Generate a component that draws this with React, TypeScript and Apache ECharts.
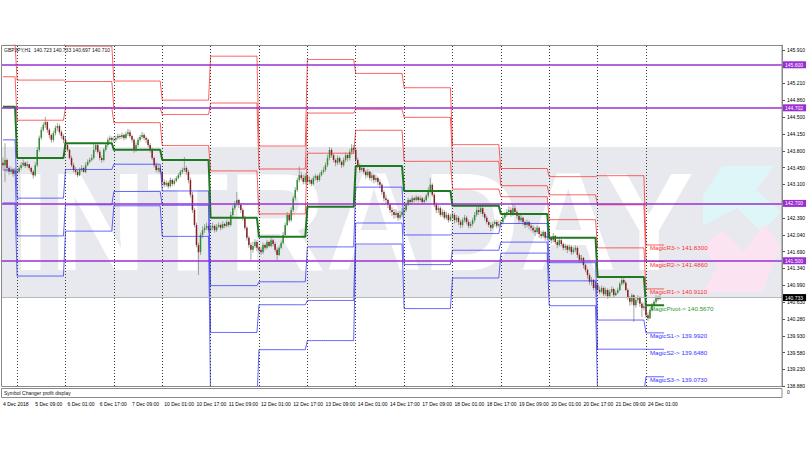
import React, { useEffect, useRef } from "react";
import * as echarts from "echarts";

// ---------- data ----------
const DAYS = ["4 Dec", "5 Dec", "6 Dec", "7 Dec", "10 Dec", "11 Dec", "12 Dec", "13 Dec", "14 Dec", "17 Dec", "18 Dec", "19 Dec", "20 Dec", "21 Dec", "24 Dec"];
const FIRST_HOURS = [17, 0, 0, 0, 0, 0, 0, 0, 0, 0, 0, 0, 0, 0, 0];
const FIRST_OPEN = 143.55;

const CLOSES = [
  [143.50, 143.61, 143.44, 143.36, 143.40, 143.32, 143.38],
  [143.36, 143.44, 143.50, 143.55, 143.48, 143.52, 143.44, 143.36, 143.29, 143.50, 143.82, 144.07, 144.24, 144.34, 144.40, 144.24, 144.13, 144.03, 144.17, 144.28, 144.32, 144.19, 144.11, 144.03],
  [143.92, 143.82, 143.65, 143.50, 143.40, 143.36, 143.29, 143.40, 143.44, 143.36, 143.50, 143.57, 143.61, 143.65, 143.82, 143.92, 143.78, 143.65, 143.61, 143.82, 143.92, 144.03, 144.07, 144.03],
  [144.03, 144.07, 144.11, 144.09, 144.13, 144.07, 144.15, 144.19, 144.11, 144.03, 143.82, 143.92, 144.03, 144.09, 144.13, 144.07, 144.03, 143.92, 143.82, 143.65, 143.50, 143.40, 143.44, 143.36],
  [143.15, 143.09, 143.13, 143.06, 143.19, 143.11, 143.17, 143.23, 143.29, 143.36, 143.40, 143.44, 143.36, 143.19, 142.88, 142.56, 142.25, 141.83, 141.68, 142.04, 142.14, 142.19, 142.23, 142.14],
  [142.19, 142.23, 142.14, 142.21, 142.25, 142.19, 142.27, 142.23, 142.31, 142.25, 142.46, 142.60, 142.69, 142.77, 142.67, 142.56, 142.40, 142.19, 141.98, 141.83, 141.73, 141.81, 141.89, 141.77],
  [141.73, 141.68, 141.83, 141.77, 141.89, 141.81, 141.93, 141.85, 141.73, 141.62, 141.77, 141.87, 142.04, 142.25, 142.46, 142.35, 142.56, 142.81, 142.98, 143.19, 143.29, 143.23, 143.15, 143.27],
  [143.15, 143.19, 143.11, 143.23, 143.27, 143.19, 143.29, 143.36, 143.40, 143.50, 143.65, 143.82, 143.71, 143.61, 143.55, 143.65, 143.57, 143.50, 143.61, 143.71, 143.65, 143.78, 143.86, 143.82],
  [143.61, 143.50, 143.40, 143.44, 143.36, 143.29, 143.36, 143.23, 143.29, 143.19, 143.23, 143.15, 143.09, 142.94, 142.81, 142.77, 142.67, 142.56, 142.52, 142.46, 142.50, 142.40, 142.46, 142.52],
  [142.56, 142.67, 142.77, 142.73, 142.81, 142.77, 142.83, 142.77, 142.81, 142.73, 142.77, 142.86, 142.98, 143.09, 142.88, 142.67, 142.56, 142.60, 142.46, 142.52, 142.40, 142.46, 142.35, 142.42],
  [142.46, 142.35, 142.40, 142.31, 142.25, 142.35, 142.40, 142.31, 142.23, 142.27, 142.35, 142.46, 142.56, 142.52, 142.60, 142.48, 142.40, 142.31, 142.25, 142.19, 142.27, 142.31, 142.23, 142.27],
  [142.31, 142.40, 142.46, 142.52, 142.56, 142.48, 142.60, 142.52, 142.44, 142.35, 142.40, 142.31, 142.25, 142.31, 142.23, 142.19, 142.14, 142.10, 142.19, 142.06, 142.02, 142.10, 141.98, 142.02],
  [141.98, 141.93, 142.02, 141.89, 141.83, 141.93, 141.85, 141.77, 141.81, 141.73, 141.79, 141.68, 141.73, 141.77, 141.62, 141.52, 141.56, 141.41, 141.31, 141.20, 141.06, 141.10, 140.93, 141.00],
  [140.89, 140.85, 140.93, 140.80, 140.89, 140.76, 140.85, 140.91, 140.78, 140.83, 140.89, 141.02, 141.10, 141.04, 140.89, 140.72, 140.64, 140.78, 140.57, 140.68, 140.72, 140.60, 140.51, 140.55],
  [140.36, 140.30, 140.47, 140.57, 140.64, 140.72, 140.70, 140.73],
];

const HIGHS = [
  [143.66, 143.96, 143.64, 143.48, 143.47, 143.44, 143.45],
  [143.42, 143.49, 143.56, 143.62, 143.57, 143.58, 143.53, 143.47, 143.40, 143.56, 143.88, 144.12, 144.30, 144.40, 144.51, 144.42, 144.27, 144.16, 144.22, 144.33, 144.38, 144.36, 144.23, 144.15],
  [144.10, 143.96, 143.84, 143.70, 143.55, 143.46, 143.40, 143.45, 143.50, 143.47, 143.56, 143.62, 143.66, 143.72, 143.96, 143.98, 143.95, 143.82, 143.70, 143.86, 143.97, 144.08, 144.12, 144.10],
  [144.10, 144.12, 144.16, 144.15, 144.18, 144.16, 144.20, 144.26, 144.24, 144.14, 144.06, 143.98, 144.08, 144.14, 144.20, 144.17, 144.10, 144.06, 143.96, 143.86, 143.68, 143.56, 143.52, 143.49],
  [143.38, 143.20, 143.18, 143.16, 143.24, 143.22, 143.22, 143.27, 143.33, 143.40, 143.45, 143.67, 143.48, 143.40, 143.24, 142.94, 142.60, 142.30, 141.88, 142.09, 142.22, 142.27, 142.30, 142.28],
  [142.26, 142.30, 142.26, 142.27, 142.31, 142.28, 142.33, 142.30, 142.36, 142.34, 142.52, 142.66, 142.75, 142.94, 142.80, 142.70, 142.60, 142.44, 142.22, 142.02, 141.88, 141.90, 141.95, 141.93],
  [141.80, 141.78, 141.88, 141.86, 141.94, 141.92, 141.98, 141.96, 141.90, 141.78, 141.82, 141.92, 142.10, 142.30, 142.52, 142.50, 142.62, 142.86, 143.04, 143.24, 143.47, 143.36, 143.30, 143.33],
  [143.22, 143.26, 143.22, 143.28, 143.32, 143.30, 143.34, 143.40, 143.46, 143.56, 143.72, 143.88, 143.86, 143.74, 143.64, 143.70, 143.68, 143.60, 143.66, 143.76, 143.74, 143.84, 143.94, 143.92],
  [143.88, 143.66, 143.54, 143.50, 143.48, 143.40, 143.42, 143.38, 143.34, 143.32, 143.30, 143.26, 143.20, 143.12, 142.98, 142.88, 142.80, 142.70, 142.62, 142.58, 142.58, 142.54, 142.54, 142.60],
  [142.62, 142.72, 142.82, 142.80, 142.86, 142.84, 142.88, 142.86, 142.86, 142.84, 142.82, 142.90, 143.04, 143.23, 143.12, 142.92, 142.72, 142.66, 142.64, 142.58, 142.56, 142.52, 142.50, 142.48],
  [142.52, 142.50, 142.46, 142.44, 142.36, 142.40, 142.46, 142.44, 142.36, 142.32, 142.40, 142.52, 142.62, 142.64, 142.68, 142.64, 142.52, 142.44, 142.34, 142.30, 142.32, 142.36, 142.36, 142.34],
  [142.36, 142.46, 142.52, 142.58, 142.64, 142.62, 142.68, 142.66, 142.56, 142.46, 142.46, 142.42, 142.34, 142.36, 142.34, 142.28, 142.24, 142.20, 142.24, 142.22, 142.12, 142.14, 142.12, 142.08],
  [142.08, 142.02, 142.08, 142.04, 141.94, 141.98, 141.96, 141.88, 141.86, 141.84, 141.84, 141.82, 141.78, 141.82, 141.80, 141.66, 141.62, 141.58, 141.44, 141.34, 141.24, 141.16, 141.12, 141.06],
  [141.04, 140.96, 140.98, 140.96, 140.94, 140.92, 140.90, 140.96, 140.94, 140.88, 140.94, 141.06, 141.16, 141.14, 141.08, 140.92, 140.76, 140.82, 140.80, 140.74, 140.78, 140.76, 140.64, 140.62],
  [140.58, 140.42, 140.50, 140.62, 140.68, 140.78, 140.77, 140.78],
];

const LOWS = [
  [143.42, 143.15, 143.35, 143.30, 143.31, 143.26, 143.28],
  [143.30, 143.33, 143.40, 143.47, 143.44, 143.45, 143.40, 143.31, 143.22, 143.26, 143.46, 143.78, 144.03, 144.20, 144.28, 144.18, 144.06, 143.97, 143.98, 144.12, 144.22, 144.14, 144.05, 143.96],
  [143.86, 143.78, 143.62, 143.46, 143.35, 143.30, 143.25, 143.27, 143.36, 143.34, 143.33, 143.48, 143.54, 143.58, 143.62, 143.78, 143.74, 143.60, 143.55, 143.58, 143.79, 143.88, 143.99, 143.98],
  [143.97, 143.99, 144.03, 144.04, 144.05, 144.02, 144.04, 144.11, 144.07, 143.98, 143.76, 143.78, 143.88, 143.99, 144.05, 144.02, 143.96, 143.88, 143.76, 143.60, 143.45, 143.35, 143.34, 143.31],
  [143.10, 143.04, 143.05, 143.01, 143.03, 143.06, 143.08, 143.14, 143.20, 143.25, 143.32, 143.36, 143.30, 143.12, 142.82, 142.50, 142.20, 141.78, 141.20, 141.62, 141.98, 142.08, 142.14, 142.09],
  [142.10, 142.14, 142.09, 142.10, 142.18, 142.13, 142.16, 142.18, 142.20, 142.20, 142.22, 142.42, 142.56, 142.64, 142.60, 142.50, 142.34, 142.14, 141.92, 141.77, 141.52, 141.67, 141.76, 141.70],
  [141.66, 141.62, 141.64, 141.72, 141.74, 141.78, 141.78, 141.80, 141.68, 141.51, 141.60, 141.74, 141.84, 142.00, 142.22, 142.30, 142.32, 142.52, 142.76, 142.94, 143.14, 143.18, 143.10, 143.10],
  [143.08, 143.10, 143.06, 143.08, 143.18, 143.14, 143.16, 143.26, 143.32, 143.36, 143.46, 143.60, 143.66, 143.56, 143.48, 143.50, 143.52, 143.44, 143.46, 143.56, 143.58, 143.60, 143.72, 143.74],
  [143.54, 143.44, 143.34, 143.36, 143.30, 143.22, 143.24, 143.18, 143.16, 143.12, 143.14, 143.08, 143.02, 142.88, 142.74, 142.70, 142.60, 142.50, 142.44, 142.38, 142.40, 142.34, 142.36, 142.42],
  [142.46, 142.52, 142.64, 142.68, 142.70, 142.72, 142.74, 142.72, 142.74, 142.68, 142.70, 142.74, 142.82, 142.92, 142.84, 142.62, 142.50, 142.50, 142.42, 142.42, 142.36, 142.36, 142.30, 142.32],
  [142.38, 142.28, 142.30, 142.24, 142.18, 142.20, 142.30, 142.26, 142.18, 142.18, 142.22, 142.30, 142.42, 142.46, 142.48, 142.42, 142.34, 142.26, 142.20, 142.12, 142.16, 142.22, 142.18, 142.20],
  [142.22, 142.26, 142.36, 142.42, 142.48, 142.42, 142.44, 142.46, 142.38, 142.28, 142.30, 142.24, 142.18, 142.20, 142.16, 142.12, 142.08, 142.02, 142.06, 141.98, 141.96, 141.98, 141.92, 141.94],
  [141.92, 141.86, 141.88, 141.84, 141.76, 141.80, 141.80, 141.72, 141.72, 141.66, 141.70, 141.62, 141.64, 141.68, 141.56, 141.46, 141.46, 141.34, 141.26, 141.12, 141.00, 140.98, 140.88, 140.90],
  [140.84, 140.80, 140.82, 140.76, 140.76, 140.70, 140.72, 140.82, 140.74, 140.76, 140.80, 140.86, 140.98, 141.00, 140.86, 140.68, 140.56, 140.58, 140.22, 140.52, 140.62, 140.54, 140.32, 140.46],
  [140.30, 140.24, 140.28, 140.44, 140.54, 140.60, 140.66, 140.68],
];

// daily pivot levels (one value per day)
const PIVOT = [144.72, 143.65, 143.96, 143.82, 143.61, 142.40, 142.00, 142.63, 143.48, 142.96, 142.65, 142.48, 141.98, 141.16, 140.567];
const R1 = [145.35, 144.44, 144.70, 144.39, 143.91, 143.38, 142.48, 143.75, 144.23, 143.58, 143.00, 142.84, 142.36, 141.77, 140.911];
const R2 = [146.04, 145.28, 145.25, 144.69, 144.56, 144.80, 143.42, 144.59, 144.67, 144.50, 143.58, 143.07, 142.88, 142.67, 141.486];
const R3 = [146.67, 146.07, 145.99, 145.26, 144.86, 145.78, 143.90, 145.71, 145.42, 145.12, 143.93, 143.43, 143.26, 143.28, 141.83];
const S1 = [144.03, 142.81, 143.41, 143.52, 142.96, 140.98, 141.06, 141.79, 143.04, 142.04, 142.07, 142.28, 141.46, 140.26, 139.992];
const S2 = [143.40, 142.02, 142.67, 142.95, 142.66, 140.00, 140.58, 140.67, 142.29, 141.42, 141.72, 141.89, 141.08, 139.65, 139.648];
const S3 = [142.71, 141.18, 142.12, 142.65, 142.01, 138.58, 139.64, 139.83, 141.85, 140.50, 141.14, 141.66, 140.56, 138.75, 139.073];

const H_LINES = [145.6, 144.702, 142.7, 141.5];
const H_LINE_LABELS = ["145.600", "144.702", "142.700", "141.500"];
const BID = 140.733;
const BID_LABEL = "140.733";
// ticks (every ~0.35) and the tick labels that are not hidden by the level boxes
const Y_TICKS = [138.88, 139.23, 139.58, 139.93, 140.28, 140.63, 140.99, 141.34, 141.69, 142.04, 142.39, 142.74, 143.10, 143.45, 143.80, 144.15, 144.50, 144.86, 145.21, 145.56, 145.91];
const Y_TICK_LABELS = [138.88, 139.23, 139.58, 139.93, 140.28, 140.63, 140.99, 141.34, 141.69, 142.04, 142.39, 143.10, 143.45, 143.80, 144.15, 144.50, 144.86, 145.21, 145.91];
const Y_MIN = 138.88;
const Y_MAX = 146.014;
const X_LABEL_STEP = 16;
const EXTRA_SLOTS = 60;
const HEADER = "GBPJPY,H1  140.723 140.733 140.697 140.710";

const FONT = "Liberation Sans";

export default function App() {
  const ref = useRef<HTMLDivElement>(null);

  useEffect(() => {
    if (!ref.current) return;
    const chart = echarts.init(ref.current, undefined, { renderer: "svg" });

    // categories and candles
    const cats: string[] = [];
    const dayOf: number[] = [];
    const candles: number[][] = [];
    let prev = FIRST_OPEN;
    DAYS.forEach((d, di) => {
      CLOSES[di].forEach((c, k) => {
        const hr = FIRST_HOURS[di] + k;
        cats.push(`${d} ${String(hr).padStart(2, "0")}:00`);
        dayOf.push(di);
        const o = prev;
        const h = Math.max(HIGHS[di][k], o, c);
        const l = Math.min(LOWS[di][k], o, c);
        candles.push([cats.length - 1, o, c, l, h]);
        prev = c;
      });
    });
    cats[0] = "4 Dec 2018";
    const nBars = cats.length;
    for (let i = 0; i < EXTRA_SLOTS; i++) cats.push("");
    const lastDay = DAYS.length - 1;
    const lastDayStart = dayOf.indexOf(lastDay);
    const dayStarts: number[] = [];
    for (let i = 1; i < nBars; i++) if (dayOf[i] !== dayOf[i - 1]) dayStarts.push(i);

    const levelData = (arr: number[]) => {
      const out: (number | null)[] = [];
      for (let i = 0; i < cats.length; i++) {
        if (i < nBars) out.push(arr[dayOf[i]]);
        else if (i < nBars + 2) out.push(arr[lastDay]);
        else out.push(null);
      }
      return out;
    };

    const levels = [
      { name: "R3", arr: R3, color: "#ff3636", width: 1, label: "MagicR3-> ", tc: "#ff3030" },
      { name: "R2", arr: R2, color: "#ff3636", width: 1, label: "MagicR2-> ", tc: "#ff3030" },
      { name: "R1", arr: R1, color: "#ff3636", width: 1, label: "MagicR1-> ", tc: "#ff3030" },
      { name: "S1", arr: S1, color: "#3c3cff", width: 1, label: "MagicS1-> ", tc: "#3434ff" },
      { name: "S2", arr: S2, color: "#3c3cff", width: 1, label: "MagicS2-> ", tc: "#3434ff" },
      { name: "S3", arr: S3, color: "#3c3cff", width: 1, label: "MagicS3-> ", tc: "#3434ff" },
      { name: "Pivot", arr: PIVOT, color: "#1f7a1f", width: 2, label: "MagicPivot-> ", tc: "#1f9a1f" },
    ];

    const levelSeries = levels.map((lv) => ({
      type: "line",
      name: lv.name,
      data: levelData(lv.arr),
      showSymbol: false,
      symbol: "none",
      connectNulls: false,
      z: lv.name === "Pivot" ? 4 : 3,
      lineStyle: { color: lv.color, width: lv.width, opacity: lv.name === "Pivot" ? 1 : 0.8 },
      silent: true,
      markPoint: {
        symbol: "circle",
        symbolSize: 0,
        silent: true,
        data: [
          {
            coord: [lastDayStart, lv.arr[lastDay]],
            label: {
              show: true,
              position: "right",
              distance: 4,
              offset: [0, 3],
              formatter: lv.label + lv.arr[lastDay].toFixed(4),
              color: lv.tc,
              fontSize: 6.2,
              fontFamily: FONT,
            },
          },
        ],
      },
    }));

    const markLineSeries = {
      type: "line",
      name: "marks",
      data: [],
      silent: true,
      z: 5,
      markLine: {
        symbol: "none",
        silent: true,
        animation: false,
        data: [
          ...dayStarts.map((i) => ({
            xAxis: i,
            lineStyle: { color: "#3a3a3a", width: 1, type: [1, 2] },
            label: { show: false },
          })),
          {
            yAxis: BID,
            lineStyle: { color: "#b8b8b8", width: 1, type: "solid" },
            label: {
              show: true,
              position: "end",
              distance: 1,
              formatter: BID_LABEL,
              backgroundColor: "#000",
              color: "#fff",
              fontSize: 5,
              fontFamily: FONT,
              padding: [1, 3, 1, 2],
            },
          },
          ...H_LINES.map((v, k) => ({
            yAxis: v,
            lineStyle: { color: "#9a2fd0", width: 1.5, type: "solid" },
            label: {
              show: true,
              position: "end",
              distance: 1,
              formatter: H_LINE_LABELS[k],
              backgroundColor: "#9a2fd0",
              color: "#fff",
              fontSize: 5,
              fontFamily: FONT,
              padding: [1, 3, 1, 2],
            },
          })),
        ],
      },
    };

    const candleSeries = {
      type: "custom",
      name: "GBPJPY",
      data: candles,
      encode: { x: 0, y: [1, 2, 3, 4] },
      z: 2,
      silent: true,
      clip: true,
      renderItem: (params: any, api: any) => {
        const i = api.value(0);
        const o = api.value(1);
        const c = api.value(2);
        const l = api.value(3);
        const h = api.value(4);
        const po = api.coord([i, o]);
        const pc = api.coord([i, c]);
        const pl = api.coord([i, l]);
        const ph = api.coord([i, h]);
        const x = po[0];
        const top = Math.min(po[1], pc[1]);
        const bh = Math.max(Math.abs(po[1] - pc[1]), 0.7);
        return {
          type: "group",
          children: [
            { type: "line", shape: { x1: x, y1: ph[1], x2: x, y2: pl[1] }, style: { stroke: "#8e8e8e", lineWidth: 0.8 } },
            { type: "rect", shape: { x: x - 0.75, y: top, width: 1.5, height: bh }, style: { fill: c >= o ? "#2f8f2f" : "#8b1f1f" } },
          ],
        };
      },
    };

    const option: any = {
      animation: false,
      grid: { left: 1, right: 28, top: 45, bottom: 64, containLabel: false },
      xAxis: {
        type: "category",
        data: cats,
        boundaryGap: true,
        axisLine: { show: false },
        axisTick: { show: false },
        splitLine: { show: false },
        axisLabel: {
          interval: (i: number) => i % X_LABEL_STEP === 0 && i < nBars,
          align: "left",
          margin: 15,
          fontSize: 5,
          color: "#000",
          fontFamily: FONT,
        },
      },
      yAxis: {
        type: "value",
        position: "right",
        min: Y_MIN,
        max: Y_MAX,
        splitLine: { show: false },
        axisLine: { show: true, lineStyle: { color: "#8a8a8a" } },
        axisTick: { show: true, length: 3, customValues: Y_TICKS, lineStyle: { color: "#555" } },
        axisLabel: {
          customValues: Y_TICK_LABELS,
          formatter: (v: number) => v.toFixed(3),
          fontSize: 5,
          margin: 5,
          color: "#000",
          fontFamily: FONT,
        },
      },
      graphic: [
        { type: "rect", z: 0, silent: true, shape: { x: 1, y: 147, width: 781, height: 150 }, style: { fill: "#e7e9ee" } },
        {
          type: "polygon", z: 0, silent: true,
          shape: { points: [[722, 166], [774, 166], [756, 190], [781, 212], [762, 232], [737, 208], [703, 226], [703, 196]] },
          style: { fill: "#def6f8" },
        },
        {
          type: "polygon", z: 0, silent: true,
          shape: { points: [[764, 224], [781, 246], [762, 292], [703, 292], [718, 266], [702, 248], [722, 230], [744, 252]] },
          style: { fill: "#fce3f1" },
        },
        {
          type: "text", z: 1, silent: true, x: 12, y: 222, scaleX: 0.96,
          style: { text: "INTRADAY", fontSize: 140, fontWeight: "bold", fontFamily: FONT, fill: "#ffffff", verticalAlign: "middle" },
        },
        { type: "rect", z: 50, silent: true, shape: { x: 1.5, y: 45.5, width: 780.5, height: 341 }, style: { fill: "none", stroke: "#8a8a8a", lineWidth: 1 } },
        { type: "rect", z: 50, silent: true, shape: { x: 1.5, y: 388.5, width: 780.5, height: 9 }, style: { fill: "none", stroke: "#8a8a8a", lineWidth: 1 } },
        { type: "text", z: 50, silent: true, x: 4, y: 50, style: { text: HEADER, fontSize: 5, fontFamily: FONT, fill: "#111", verticalAlign: "middle" } },
        { type: "text", z: 50, silent: true, x: 4, y: 393, style: { text: "Symbol Changer profit display", fontSize: 5, fontFamily: FONT, fill: "#111", verticalAlign: "middle" } },
        { type: "text", z: 50, silent: true, x: 787, y: 392, style: { text: "0", fontSize: 5, fontFamily: FONT, fill: "#111", verticalAlign: "middle" } },
      ],
      series: [candleSeries, ...levelSeries, markLineSeries],
    };

    chart.setOption(option);
    return () => chart.dispose();
  }, []);

  return <div ref={ref} style={{ width: 810, height: 450, position: "absolute", left: 0, top: 0, background: "#fff" }} />;
}
